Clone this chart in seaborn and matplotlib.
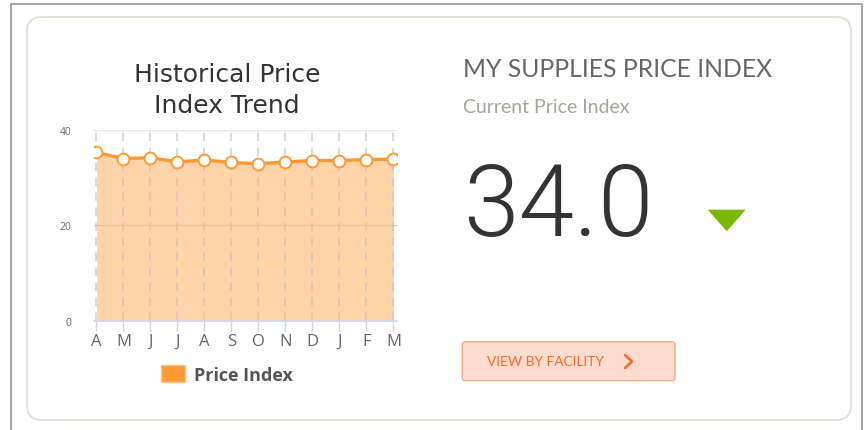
import pandas as pd
import matplotlib
matplotlib.use('Agg')
import matplotlib.pyplot as plt
import seaborn as sns
from matplotlib.patches import Patch, FancyBboxPatch, Polygon
from matplotlib.lines import Line2D
from matplotlib.transforms import IdentityTransform

# chart data
months = ['A', 'M', 'J', 'J', 'A', 'S', 'O', 'N', 'D', 'J', 'F', 'M']
price_index = [35.3, 34.0, 34.2, 33.3, 33.7, 33.2, 32.9, 33.3, 33.6, 33.6, 33.8, 33.9]
y_ticks = [0, 20, 40]
current_value = '34.0'

W, H = 864, 431
ORANGE = '#ff9933'
FILL = '#ffd4a9'
GREY = '#666666'

sns.set_style('white')
plt.rcParams['font.family'] = ['Open Sans', 'DejaVu Sans']

df = pd.DataFrame({'idx': range(len(months)), 'month': months, 'price': price_index})

fig = plt.figure(figsize=(W / 100, H / 100), dpi=100)
px = IdentityTransform()


def fy(y):
    # image y (top down) -> display y (bottom up)
    return H - y


# outer frame and card (kept behind the axes)
fig.add_artist(Line2D([11, 11, 862, 862], [0, fy(5), fy(5), 0], transform=px,
                      color='#a6a6a6', lw=1.5, zorder=-10))
fig.add_artist(FancyBboxPatch((27, fy(421)), 824, 403, boxstyle='round,pad=0,rounding_size=15',
                              transform=px, facecolor='white', edgecolor='#e2e1d8', lw=1.5,
                              zorder=-10))

# ---- trend chart ----
ax = fig.add_axes([94 / W, (H - 321.7) / H, 303 / W, 190.7 / H])
ax.patch.set_alpha(0)
ax.fill_between(df['idx'], df['price'], 0, color=FILL, lw=0, zorder=1)
for i in df['idx']:
    ax.axvline(i, color='#c4c4c4', lw=1.2, ls=(0, (5, 4)), alpha=0.75, zorder=2)
ax.axhline(40, color='#e6e6e6', lw=1, zorder=2)
ax.axhline(20, color='#e3bd95', lw=1, alpha=0.8, zorder=2)
sns.lineplot(data=df, x='idx', y='price', ax=ax, color=ORANGE, lw=2.4, marker='o',
             markersize=8.5, markerfacecolor='white', markeredgecolor=ORANGE,
             markeredgewidth=1.4, zorder=4, legend=False)
ax.set_xlim(-0.09, 11.13)
ax.set_ylim(0, 40)
ax.set_xticks(df['idx'])
ax.set_xticklabels(months, fontsize=12, color=GREY)
ax.set_yticks(y_ticks)
ax.set_yticklabels([str(v) for v in y_ticks], fontsize=7.5, color=GREY)
ax.tick_params(axis='x', direction='out', length=7, width=1, color='#ccd6eb', pad=2, bottom=True)
ax.tick_params(axis='y', length=0, pad=16)
ax.set_xlabel('')
ax.set_ylabel('')
for side in ['left', 'top', 'right']:
    ax.spines[side].set_visible(False)
ax.spines['bottom'].set_color('#ccd6eb')
ax.spines['bottom'].set_linewidth(1.2)
ax.spines['bottom'].set_zorder(5)
ax.grid(False)

fig.text(227, fy(75.5), 'Historical Price', transform=px, ha='center', va='center',
         fontsize=18, color='#333333', family=['DejaVu Sans'])
fig.text(227, fy(106), 'Index Trend', transform=px, ha='center', va='center',
         fontsize=18, color='#333333', family=['DejaVu Sans'])

fig.legend(handles=[Patch(facecolor=ORANGE, edgecolor='#ffc48a', label='Price Index')],
           loc='center', bbox_to_anchor=(226.5 / W, 1 - 375.5 / H), frameon=False,
           handlelength=1.33, handleheight=1.0, handletextpad=0.5,
           prop={'weight': 'bold', 'size': 13}, labelcolor='#555555')

# ---- current index panel ----
fig.text(463, fy(77), 'MY SUPPLIES PRICE INDEX', transform=px, ha='left', va='baseline',
         fontsize=17.8, color=GREY, family=['Lato', 'DejaVu Sans'])
fig.text(463, fy(113), 'Current Price Index', transform=px, ha='left', va='baseline',
         fontsize=14, color='#a9a397', family=['Lato', 'DejaVu Sans'])
fig.text(463, fy(236.5), current_value, transform=px, ha='left', va='baseline',
         fontsize=72, color='#333333', family=['Roboto', 'DejaVu Sans'], fontweight=300)
fig.add_artist(Polygon([[707.7, fy(210.7)], [745.7, fy(210.7)], [726.7, fy(232.3)]],
                       closed=True, transform=px, facecolor='#7ab800', edgecolor='none'))

fig.add_artist(FancyBboxPatch((462.3, fy(381.7)), 212.7, 39, boxstyle='round,pad=0,rounding_size=3',
                              transform=px, facecolor='#fddccd', edgecolor='#f8aa8c', lw=1))
fig.text(486.7, fy(362.5), 'VIEW BY FACILITY', transform=px, ha='left', va='center',
         fontsize=9.9, color='#f26a2e', family=['Lato', 'DejaVu Sans'])
fig.add_artist(Line2D([625, 632, 625], [fy(356), fy(362.5), fy(369)], transform=px,
                      color='#f26a2e', lw=1.8))

fig.savefig('out.png', dpi=100, facecolor='white')
plt.close(fig)
